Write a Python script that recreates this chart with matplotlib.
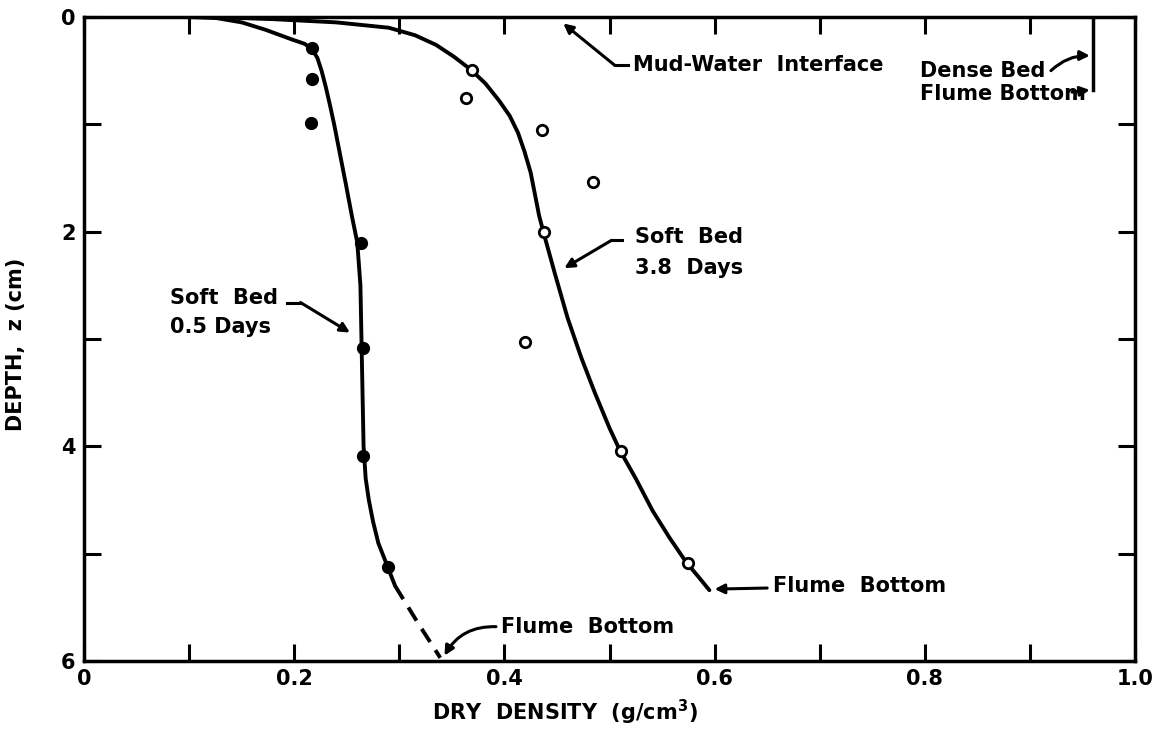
import numpy as np
import matplotlib
matplotlib.use("Agg")
import matplotlib.pyplot as plt

plt.rcParams['font.family'] = ['DejaVu Sans']

# soft bed after 0.5 days: measured points and drawn curve (density g/cm3, depth cm)
dens_05 = [0.217, 0.217, 0.216, 0.264, 0.265, 0.265, 0.289]
depth_05 = [0.29, 0.58, 0.99, 2.11, 3.08, 4.09, 5.12]
curve05_x = [0.100, 0.126, 0.150, 0.173, 0.198, 0.210, 0.217, 0.222, 0.226, 0.230,
             0.234, 0.238, 0.244, 0.249, 0.255, 0.260, 0.263, 0.264, 0.265, 0.266,
             0.268, 0.271, 0.275, 0.280, 0.288, 0.296]
curve05_z = [0.00, 0.01, 0.05, 0.12, 0.21, 0.25, 0.30, 0.38, 0.50, 0.65,
             0.82, 1.00, 1.30, 1.55, 1.86, 2.10, 2.50, 3.00, 3.50, 4.00,
             4.30, 4.50, 4.70, 4.90, 5.10, 5.30]
dash05_x = [0.296, 0.318, 0.339]
dash05_z = [5.30, 5.65, 5.97]

# soft bed after 3.8 days
dens_38 = [0.369, 0.363, 0.436, 0.484, 0.438, 0.420, 0.511, 0.575]
depth_38 = [0.49, 0.75, 1.05, 1.54, 2.00, 3.03, 4.04, 5.09]
curve38_x = [0.120, 0.180, 0.240, 0.290, 0.315, 0.335, 0.352, 0.368, 0.382, 0.395,
             0.405, 0.413, 0.419, 0.425, 0.429, 0.433, 0.437, 0.448, 0.460, 0.473,
             0.486, 0.500, 0.510, 0.525, 0.541, 0.557, 0.573, 0.585, 0.595]
curve38_z = [0.00, 0.02, 0.05, 0.10, 0.17, 0.26, 0.37, 0.49, 0.62, 0.78,
             0.92, 1.08, 1.25, 1.45, 1.65, 1.85, 2.00, 2.39, 2.80, 3.17,
             3.50, 3.83, 4.04, 4.30, 4.60, 4.85, 5.08, 5.22, 5.34]

# dense bed profile (vertical line near the right edge)
dense_x = [0.960, 0.960]
dense_z = [0.0, 0.68]

xticks = [0, 0.2, 0.4, 0.6, 0.8, 1.0]
xlabels = ['0', '0.2', '0.4', '0.6', '0.8', '1.0']
yticks = [0, 2, 4, 6]
ylabels = ['0', '2', '4', '6']

fs = 15
tf = dict(fontsize=fs, fontweight='bold')

fig = plt.figure(figsize=(11.7, 7.33), dpi=100)
ax = fig.add_axes([0.0718, 0.0982, 0.8983, 0.8786])

line = dict(color='k', lw=2.8, solid_capstyle='round', solid_joinstyle='round')
ax.plot(curve05_x, curve05_z, '-', **line)
ax.plot(dash05_x, dash05_z, 'k--', lw=2.8, dashes=(4, 2.5))
ax.plot(curve38_x, curve38_z, '-', **line)
ax.plot(dens_05, depth_05, 'o', color='k', ms=8.5)
ax.plot(dens_38, depth_38, 'o', mfc='white', mec='k', mew=2.0, ms=7.5)
ax.plot(dense_x, dense_z, 'k-', lw=2.5)

arr = dict(arrowstyle='-|>', color='k', lw=2.2, mutation_scale=14, shrinkA=0, shrinkB=0)

# Mud-Water Interface
ax.plot([0.505, 0.518], [0.45, 0.45], 'k-', lw=2.2)
ax.annotate('', xy=(0.456, 0.06), xytext=(0.505, 0.45), arrowprops=arr)
ax.text(0.522, 0.45, 'Mud-Water  Interface', va='center', ha='left', **tf)

# Soft Bed 0.5 Days
ax.plot([0.193, 0.206], [2.66, 2.66], 'k-', lw=2.2)
ax.annotate('', xy=(0.253, 2.94), xytext=(0.206, 2.66), arrowprops=arr)
ax.text(0.082, 2.62, 'Soft  Bed', va='center', ha='left', **tf)
ax.text(0.082, 2.89, '0.5 Days', va='center', ha='left', **tf)

# Soft Bed 3.8 Days
ax.plot([0.502, 0.512], [2.08, 2.08], 'k-', lw=2.2)
ax.annotate('', xy=(0.457, 2.34), xytext=(0.502, 2.08), arrowprops=arr)
ax.text(0.524, 2.05, 'Soft  Bed', va='center', ha='left', **tf)
ax.text(0.524, 2.34, '3.8  Days', va='center', ha='left', **tf)

# Flume Bottom labels
ax.annotate('', xy=(0.343, 5.95), xytext=(0.392, 5.68),
            arrowprops=dict(arr, connectionstyle='arc3,rad=0.3'))
ax.text(0.397, 5.68, 'Flume  Bottom', va='center', ha='left', **tf)
ax.annotate('', xy=(0.600, 5.33), xytext=(0.650, 5.32), arrowprops=arr)
ax.text(0.656, 5.30, 'Flume  Bottom', va='center', ha='left', **tf)

# Dense bed labels
ax.annotate('', xy=(0.957, 0.36), xytext=(0.920, 0.50),
            arrowprops=dict(arr, connectionstyle='arc3,rad=-0.2'))
ax.text(0.795, 0.50, 'Dense Bed', va='center', ha='left', **tf)
ax.annotate('', xy=(0.957, 0.68), xytext=(0.940, 0.70), arrowprops=arr)
ax.text(0.795, 0.72, 'Flume Bottom', va='center', ha='left', **tf)

ax.set_xlim(0, 1.0)
ax.set_ylim(6, 0)
ax.set_xticks(xticks)
ax.set_xticklabels(xlabels)
ax.set_xticks(np.arange(0.1, 1.0, 0.2), minor=True)
ax.set_yticks(yticks)
ax.set_yticklabels(ylabels)
ax.set_yticks([1, 3, 5], minor=True)
ax.tick_params(which='both', direction='in', length=12, width=2.2,
               top=True, right=True, labelsize=fs, pad=6)
for lab in ax.get_xticklabels() + ax.get_yticklabels():
    lab.set_fontweight('bold')
for sp in ax.spines.values():
    sp.set_linewidth(2.5)

fig.text(0.483, 0.028, 'DRY  DENSITY  (g/cm$^{\\mathbf{3}}$)', ha='center', va='center', **tf)
fig.text(0.014, 0.53, 'DEPTH,  z (cm)', rotation=90, ha='center', va='center', **tf)

fig.savefig('out.png', dpi=100)
